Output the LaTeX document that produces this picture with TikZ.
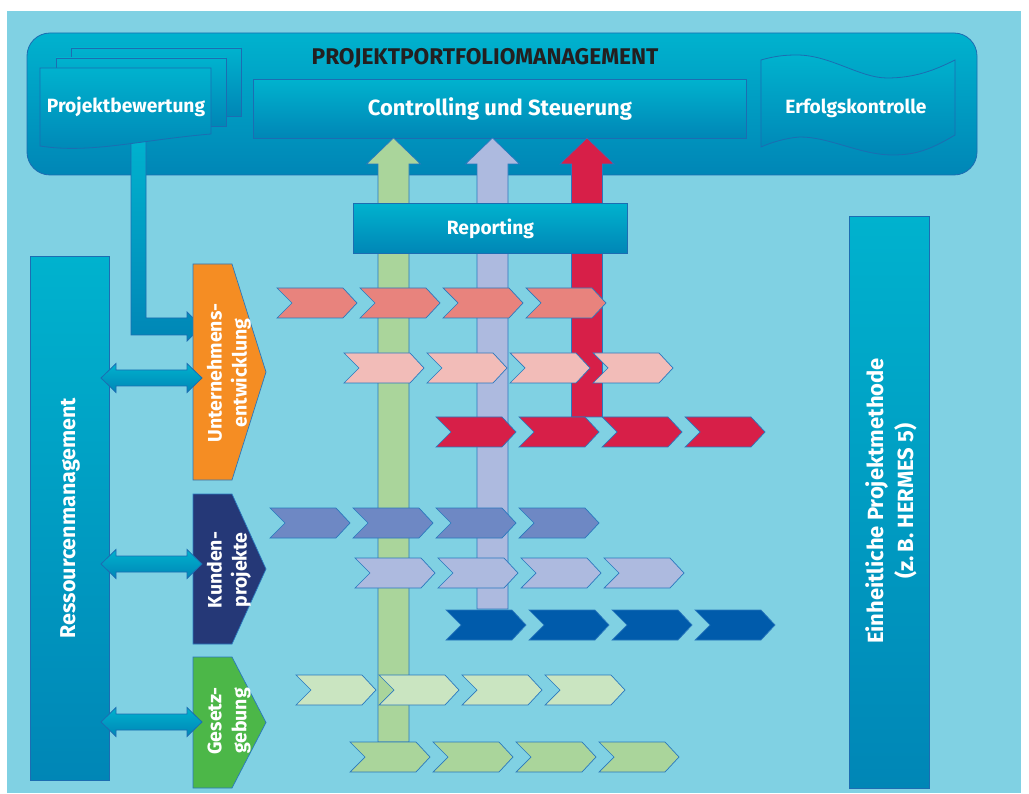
\documentclass[tikz,border=0pt]{standalone}
\usepackage{fontspec}
\setmainfont{Fira Sans}
\usetikzlibrary{calc}
\definecolor{bg}{HTML}{80D1E3}
\definecolor{gtop}{HTML}{00B2CE}
\definecolor{gbot}{HTML}{0086B6}
\definecolor{gline}{HTML}{1C6DB2}
\definecolor{cline}{HTML}{2A78BE}
\definecolor{titlec}{HTML}{231F20}
\definecolor{orangec}{HTML}{F58D23}
\definecolor{navyc}{HTML}{253877}
\definecolor{greenc}{HTML}{4CB748}
\definecolor{salmon}{HTML}{E8837D}
\definecolor{pinkc}{HTML}{F2BCB8}
\definecolor{crimson}{HTML}{D71F48}
\definecolor{violet}{HTML}{6E88C4}
\definecolor{lavender}{HTML}{ADBADF}
\definecolor{dblue}{HTML}{005BAB}
\definecolor{palegreen}{HTML}{CAE5C1}
\definecolor{midgreen}{HTML}{AAD59B}
\newcommand\chevr[3]{\draw[chev, fill=#3] (#1,#2-15) -- ++(66,0) -- ++(14,15) -- ++(-14,15) -- ++(-66,0) -- ++(15,-15) -- cycle;}
\newcommand\varr[4]{\draw[chev, fill=#4] (#1-15.5,#2) -- (#1-15.5,164) -- (#1-27,164) -- (#1,138) -- (#1+27,164) -- (#1+15.5,164) -- (#1+15.5,#2) -- cycle; \coordinate (#3) at (#1,#2);}
\newcommand\dblarr[1]{\draw[grad] (101,#1) -- (116,#1-14.5) -- (116,#1-8) -- (187,#1-8) -- (187,#1-14.5) -- (202,#1) -- (187,#1+14.5) -- (187,#1+8) -- (116,#1+8) -- (116,#1+14.5) -- cycle;}
\newcommand\pent[4]{\draw[chev, fill=#4] (193,#1) -- (232,#1) -- (266,{(#1+#2)/2}) -- (232,#2) -- (193,#2) -- cycle; \coordinate (#3) at (193,{(#1+#2)/2});}
\begin{document}
\begin{tikzpicture}[x=1pt,y=-1pt, line join=miter,
  chev/.style={draw=cline, line width=0.7pt},
  grad/.style={top color=gtop, bottom color=gbot, draw=gline, line width=0.8pt},
  lbl/.style={text=white, font=\bfseries\fontsize{19.2}{22}\selectfont, align=center, inner sep=0pt},
  rlbl/.style={lbl, rotate=90, font=\bfseries\fontsize{19.5}{25}\selectfont}]
\useasboundingbox (0,0) rectangle (1029,794);
\fill[white] (0,0) rectangle (1029,794);
\fill[bg] (7,11) rectangle (1021,793);
% top portfolio box
\draw[grad, rounded corners=23pt] (27,33) rectangle (977,175);
\node[font=\bfseries\fontsize{22.7}{26}\selectfont, text=titlec, inner sep=0pt] (title) at (485,58) {PROJEKTPORTFOLIOMANAGEMENT};
\node[grad, minimum width=493pt, minimum height=59pt, anchor=north west, inner sep=0pt] (ctrl) at (253,79) {};
\node[lbl, font=\bfseries\fontsize{22}{26}\selectfont] at (ctrl.center) {Controlling und Steuerung};
% Erfolgskontrolle
\draw[grad] (761,60) .. controls (775,56) and (785,55) .. (797,55) .. controls (830,55) and (860,78) .. (887,78) .. controls (915,78) and (935,70) .. (955,60) -- (955,135) .. controls (930,150) and (915,155) .. (893,155) .. controls (860,155) and (830,137) .. (800,137) .. controls (785,138) and (770,143) .. (761,147) -- cycle;
\node[lbl] (erf) at (856,108) {Erfolgskontrolle};
% elbow connector
\coordinate (elbowtip) at (202,326.5);
\draw[grad] (131,140) -- (146,140) -- (146,318) -- (187,318) -- (187,312) -- (elbowtip) -- (187,341) -- (187,335) -- (131,335) -- cycle;
% document stack
\draw[grad] (71,48) rectangle (241,116);
\draw[grad] (56,58) rectangle (226,126);
\draw[grad] (40,68) -- (211,68) -- (211,134) .. controls (140,140) and (90,154) .. (40,146) -- cycle;
\node[lbl] (bew) at (126,107) {Projektbewertung};
% vertical arrows
\varr{393.5}{742}{gbar}{midgreen}
\varr{492.5}{609}{bbar}{lavender}
\varr{587}{417}{rbar}{crimson}
% Reporting
\node[grad, minimum width=274pt, minimum height=50pt, anchor=north west, inner sep=0pt] (rep) at (353,203) {};
\node[lbl] at (rep.center) {Reporting};
% chevron rows
\foreach \x/\y/\c in {277/303/salmon, 344/368/pinkc, 436/432/crimson, 270/523/violet, 355/573/lavender, 446/625/dblue, 296/690/palegreen, 350/757/midgreen}{
  \foreach \i in {0,...,3}{\chevr{\x+83*\i}{\y}{\c}}
}
% Ressourcenmanagement
\node[grad, minimum width=79pt, minimum height=524pt, anchor=north west, inner sep=0pt] (res) at (30,256) {};
\node[rlbl, font=\bfseries\fontsize{21.5}{26}\selectfont] at (70,518) {Ressourcenmanagement};
% right bar
\node[grad, minimum width=80pt, minimum height=572pt, anchor=north west, inner sep=0pt] (meth) at (849,216) {};
\node[rlbl, font=\bfseries\fontsize{22}{30}\selectfont] at (891,501) {Einheitliche Projektmethode\\(z.\,B. HERMES 5)};
% pentagons
\pent{264}{480}{unt}{orangec}
\pent{494}{644}{kun}{navyc}
\pent{657}{788}{ges}{greenc}
\node[rlbl] (untl) at (229,373) {Unternehmens-\\entwicklung};
\node[rlbl] (kunl) at (229,570) {Kunden-\\projekte};
\node[rlbl] (gesl) at (229,721) {Gesetz-\\gebung};
% double arrows
\dblarr{378}
\dblarr{564}
\dblarr{722}
\end{tikzpicture}
\end{document}
